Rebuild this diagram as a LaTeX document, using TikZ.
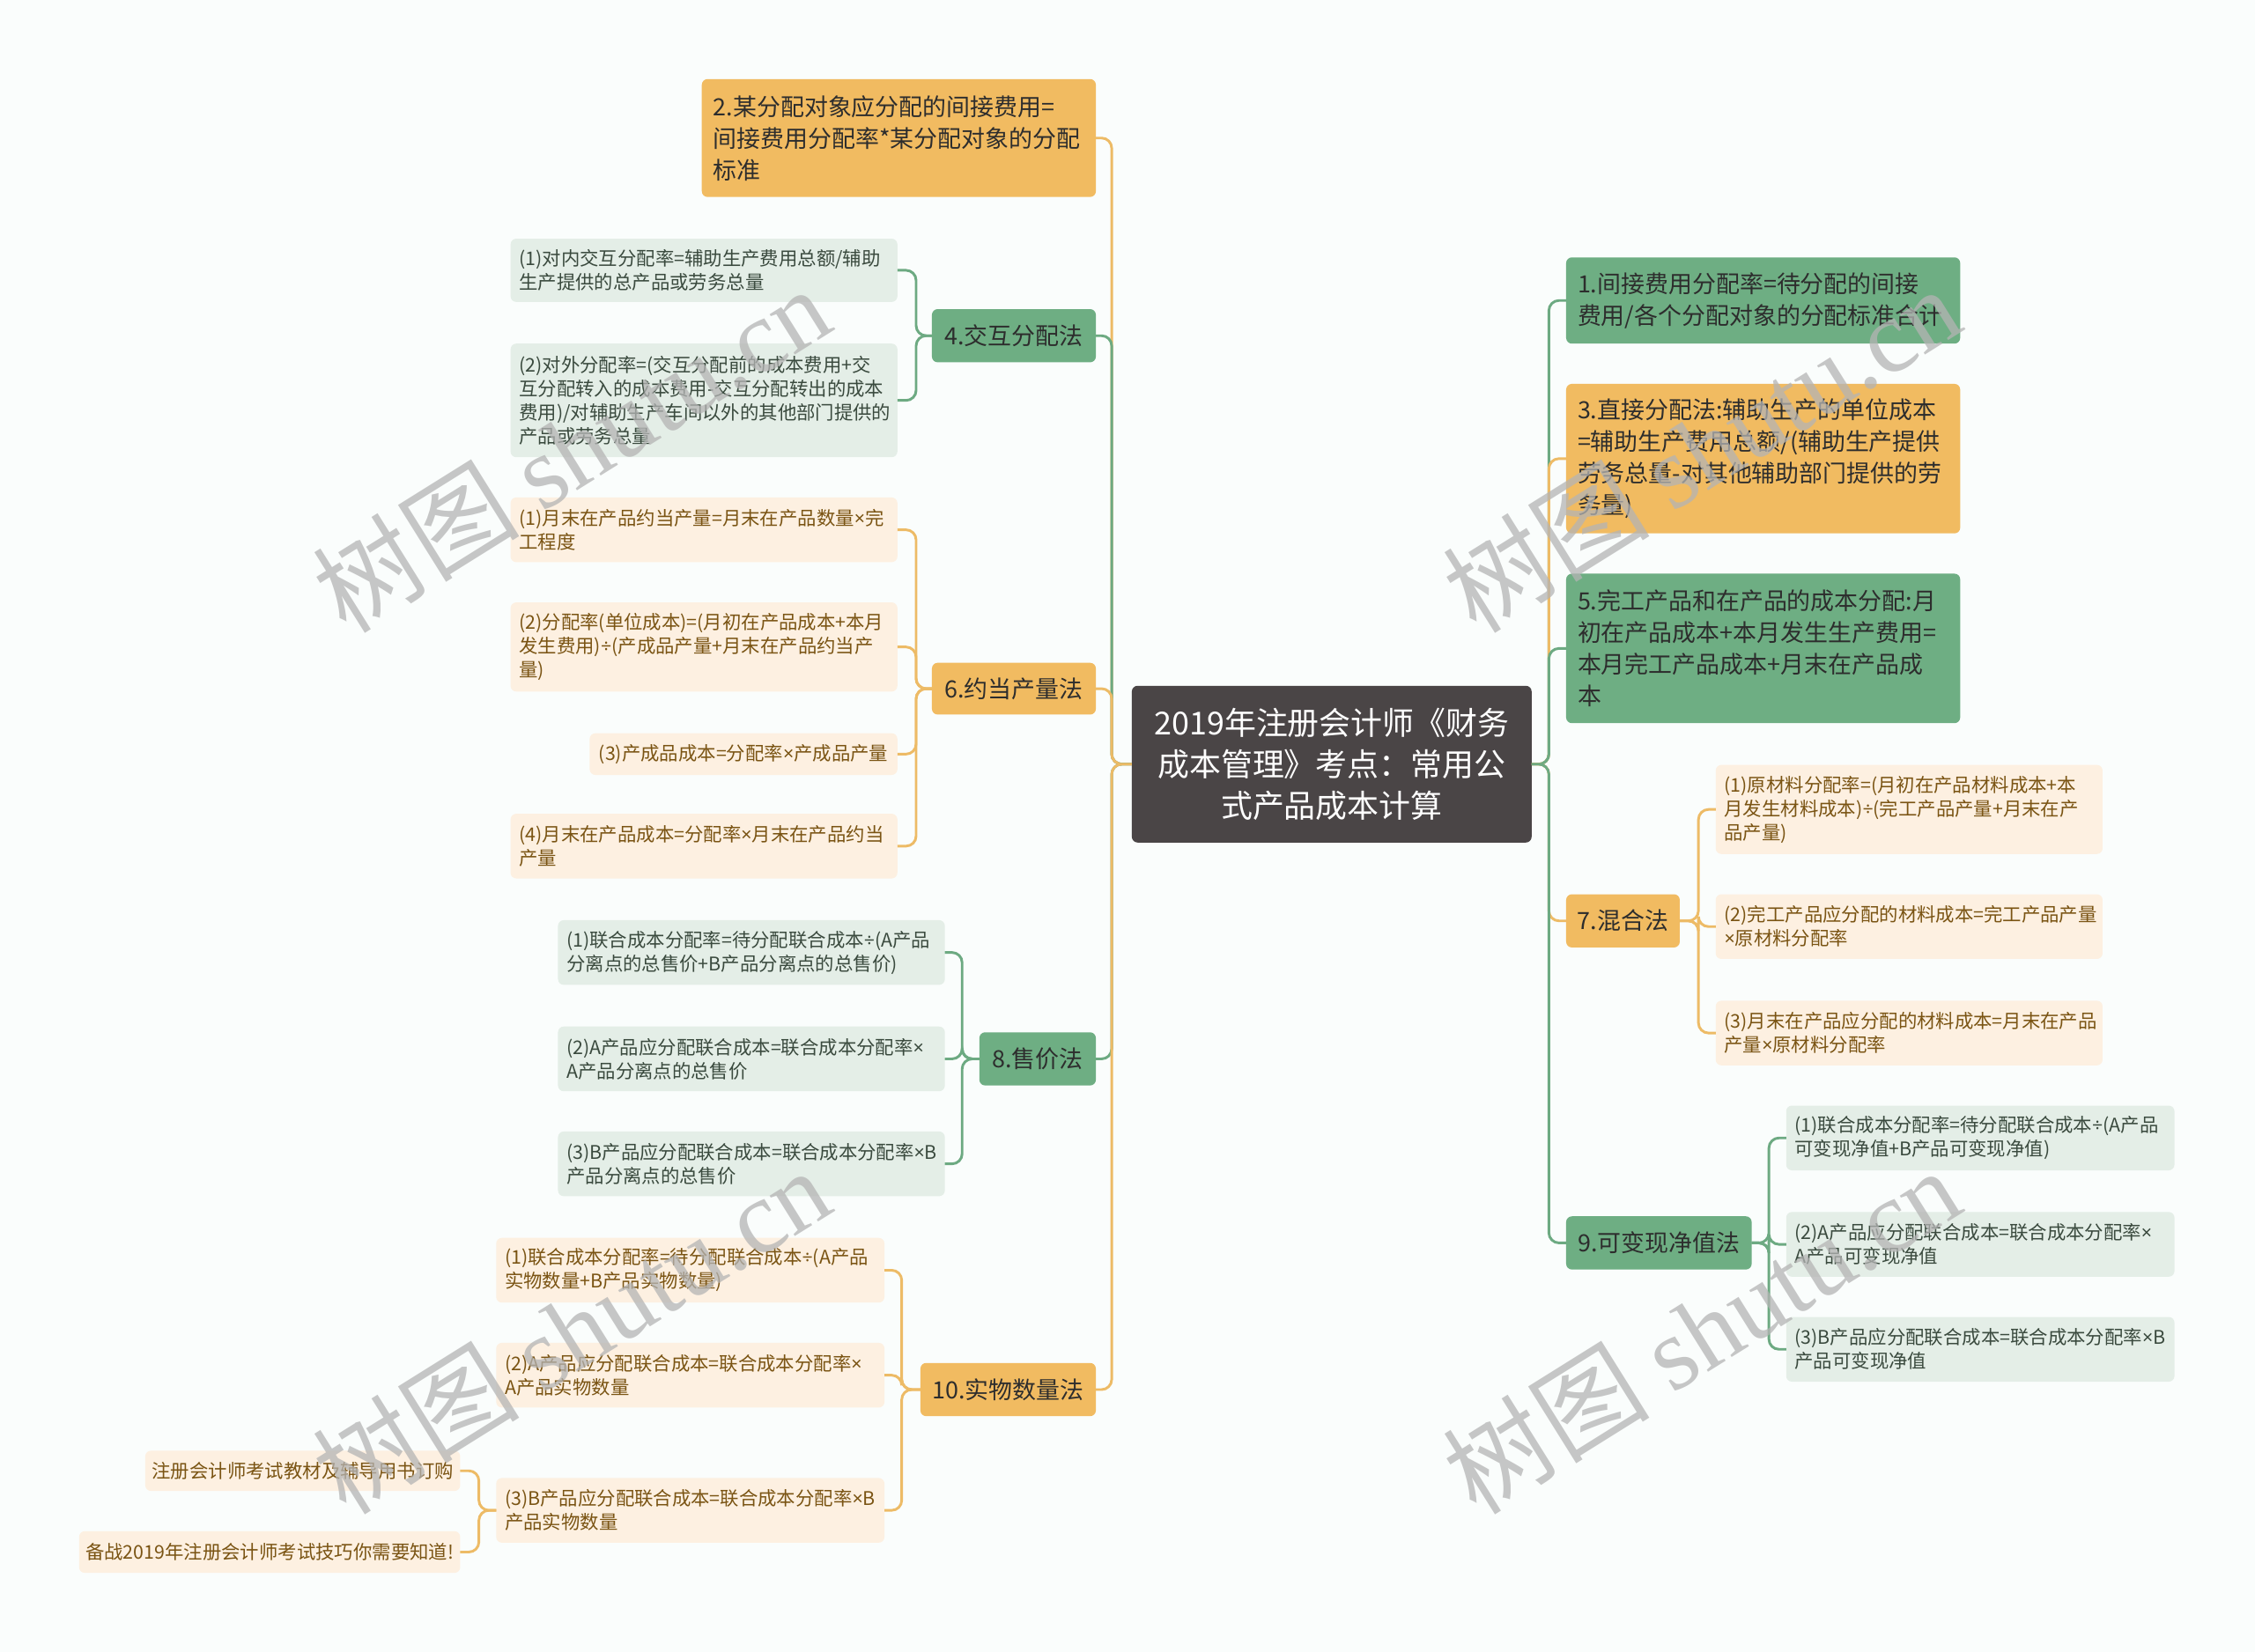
\documentclass[tikz,border=0pt]{standalone}
\usepackage{fontspec}
\setmainfont{Noto Sans CJK SC}
\newfontfamily\wmserif{Liberation Serif}
\newfontfamily\latf{Noto Sans}
\newcommand{\mulx}{{\latf ×}}
\newcommand{\divx}{{\latf ÷}}
\definecolor{bgc}{RGB}{250,253,252}
\definecolor{orgF}{RGB}{241,187,97}
\definecolor{grnF}{RGB}{110,174,131}
\definecolor{ctrF}{RGB}{74,69,70}
\definecolor{lgrF}{RGB}{228,238,231}
\definecolor{pchF}{RGB}{253,240,225}
\definecolor{orgL}{RGB}{237,187,102}
\definecolor{grnL}{RGB}{109,170,130}
\definecolor{txtD}{RGB}{45,45,45}
\definecolor{txtG}{RGB}{58,74,62}
\definecolor{txtO}{RGB}{122,84,19}
\definecolor{wmc}{RGB}{180,180,180}
\begin{document}
\begin{tikzpicture}[x=1pt,y=-1pt,
  base/.style={anchor=north west, rounded corners=4pt, inner ysep=0pt, outer sep=0pt},
  ctrbox/.style={base, fill=ctrF, text=white, align=center, font=\fontsize{22}{29}\selectfont},
  oneO/.style={base, fill=orgF, text=txtD, font=\fontsize{16.5}{22}\selectfont},
  oneG/.style={base, fill=grnF, text=txtD, font=\fontsize{16.5}{22}\selectfont},
  multi/.style={inner xsep=8pt, align=left},
  twoG/.style={base, fill=lgrF, text=txtG, font=\fontsize{13.1}{16.5}\selectfont},
  twoO/.style={base, fill=pchF, text=txtO, font=\fontsize{13.1}{16.5}\selectfont},
  multt/.style={inner xsep=6pt, align=left},
  eo/.style={draw=orgL, line width=1.8pt, rounded corners=7pt},
  eg/.style={draw=grnL, line width=1.8pt, rounded corners=7pt},
  wm/.style={text=wmc, text opacity=0.75, rotate=32, inner sep=0pt}
]
\fill[bgc] (0,0) rectangle (1568,1149);
\useasboundingbox (0,0) rectangle (1568,1149);

% center
\node[ctrbox, minimum width=278pt, minimum height=109pt] (c) at (787,477)
  {2019年注册会计师《财务\\成本管理》考点：常用公\\式产品成本计算};

% left level 1
\node[oneO, multi, text width=258pt, minimum height=82pt] (n2) at (488,55)
  {2.某分配对象应分配的间接费用=\\间接费用分配率*某分配对象的分配\\标准};
\node[oneG, minimum width=114pt, minimum height=37pt] (n4) at (648,215) {4.交互分配法};
\node[oneO, minimum width=114pt, minimum height=36pt] (n6) at (648,461) {6.约当产量法};
\node[oneG, minimum width=81pt, minimum height=37pt] (n8) at (681,718) {8.售价法};
\node[oneO, minimum width=122pt, minimum height=37pt] (n10) at (640,948) {10.实物数量法};

% right level 1
\node[oneG, multi, text width=258pt, minimum height=60pt] (n1) at (1089,179)
  {1.间接费用分配率=待分配的间接\\费用/各个分配对象的分配标准合计};
\node[oneO, multi, text width=258pt, minimum height=104pt] (n3) at (1089,267)
  {3.直接分配法:辅助生产的单位成本\\=辅助生产费用总额/(辅助生产提供\\劳务总量-对其他辅助部门提供的劳\\务量)};
\node[oneG, multi, text width=258pt, minimum height=104pt] (n5) at (1089,399)
  {5.完工产品和在产品的成本分配:月\\初在产品成本+本月发生生产费用=\\本月完工产品成本+月末在产品成\\本};
\node[oneO, minimum width=79pt, minimum height=37pt] (n7) at (1089,622) {7.混合法};
\node[oneG, minimum width=129pt, minimum height=37pt] (n9) at (1089,846) {9.可变现净值法};

% left level 2
\node[twoG, multt, text width=257pt, minimum height=44pt] (n41) at (355,166)
  {(1)对内交互分配率=辅助生产费用总额/辅助\\生产提供的总产品或劳务总量};
\node[twoG, multt, text width=257pt, minimum height=79pt] (n42) at (355,239)
  {(2)对外分配率=(交互分配前的成本费用+交\\互分配转入的成本费用-交互分配转出的成本\\费用)/对辅助生产车间以外的其他部门提供的\\产品或劳务总量};
\node[twoO, multt, text width=257pt, minimum height=45pt] (n61) at (355,346)
  {(1)月末在产品约当产量=月末在产品数量\mulx 完\\工程度};
\node[twoO, multt, text width=257pt, minimum height=62pt] (n62) at (355,419)
  {(2)分配率(单位成本)=(月初在产品成本+本月\\发生费用)\divx(产成品产量+月末在产品约当产\\量)};
\node[twoO, minimum width=214pt, minimum height=29pt] (n63) at (410,510)
  {(3)产成品成本=分配率\mulx 产成品产量};
\node[twoO, multt, text width=257pt, minimum height=45pt] (n64) at (355,566)
  {(4)月末在产品成本=分配率\mulx 月末在产品约当\\产量};
\node[twoG, multt, text width=257pt, minimum height=45pt] (n81) at (388,640)
  {(1)联合成本分配率=待分配联合成本\divx(A产品\\分离点的总售价+B产品分离点的总售价)};
\node[twoG, multt, text width=257pt, minimum height=45pt] (n82) at (388,714)
  {(2)A产品应分配联合成本=联合成本分配率\mulx\\A产品分离点的总售价};
\node[twoG, multt, text width=257pt, minimum height=45pt] (n83) at (388,787)
  {(3)B产品应分配联合成本=联合成本分配率\mulx B\\产品分离点的总售价};
\node[twoO, multt, text width=258pt, minimum height=45pt] (n101) at (345,861)
  {(1)联合成本分配率=待分配联合成本\divx(A产品\\实物数量+B产品实物数量)};
\node[twoO, multt, text width=258pt, minimum height=45pt] (n102) at (345,934)
  {(2)A产品应分配联合成本=联合成本分配率\mulx\\A产品实物数量};
\node[twoO, multt, text width=258pt, minimum height=45pt] (n103) at (345,1028)
  {(3)B产品应分配联合成本=联合成本分配率\mulx B\\产品实物数量};
\node[twoO, minimum width=219pt, minimum height=28pt] (n1031) at (101,1009)
  {注册会计师考试教材及辅导用书订购};
\node[twoO, minimum width=265pt, minimum height=29pt] (n1032) at (55,1065)
  {备战2019年注册会计师考试技巧你需要知道!};

% right level 2
\node[twoO, multt, text width=257pt, minimum height=62pt] (n71) at (1193,532)
  {(1)原材料分配率=(月初在产品材料成本+本\\月发生材料成本)\divx(完工产品产量+月末在产\\品产量)};
\node[twoO, multt, text width=257pt, minimum height=45pt] (n72) at (1193,622)
  {(2)完工产品应分配的材料成本=完工产品产量\\\mulx 原材料分配率};
\node[twoO, multt, text width=257pt, minimum height=45pt] (n73) at (1193,696)
  {(3)月末在产品应分配的材料成本=月末在产品\\产量\mulx 原材料分配率};
\node[twoG, multt, text width=258pt, minimum height=45pt] (n91) at (1242,769)
  {(1)联合成本分配率=待分配联合成本\divx(A产品\\可变现净值+B产品可变现净值)};
\node[twoG, multt, text width=258pt, minimum height=45pt] (n92) at (1242,843)
  {(2)A产品应分配联合成本=联合成本分配率\mulx\\A产品可变现净值};
\node[twoG, multt, text width=258pt, minimum height=45pt] (n93) at (1242,916)
  {(3)B产品应分配联合成本=联合成本分配率\mulx B\\产品可变现净值};

% connectors: center to level 1
\draw[eo] (c.west) -- ++(-14,0) |- (n2.east);
\draw[eg] (c.west) -- ++(-14,0) |- (n4.east);
\draw[eo] (c.west) -- ++(-14,0) |- (n6.east);
\draw[eg] (c.west) -- ++(-14,0) |- (n8.east);
\draw[eo] (c.west) -- ++(-14,0) |- (n10.east);
\draw[eg] (c.east) -- ++(12,0) |- (n1.west);
\draw[eo] (c.east) -- ++(12,0) |- (n3.west);
\draw[eg] (c.east) -- ++(12,0) |- (n5.west);
\draw[eo] (c.east) -- ++(12,0) |- (n7.west);
\draw[eg] (c.east) -- ++(12,0) |- (n9.west);

% level 1 to level 2
\draw[eg] (n4.west) -- ++(-11,0) |- (n41.east);
\draw[eg] (n4.west) -- ++(-11,0) |- (n42.east);
\draw[eo] (n6.west) -- ++(-11,0) |- (n61.east);
\draw[eo] (n6.west) -- ++(-11,0) |- (n62.east);
\draw[eo] (n6.west) -- ++(-11,0) |- (n63.east);
\draw[eo] (n6.west) -- ++(-11,0) |- (n64.east);
\draw[eg] (n8.west) -- ++(-12,0) |- (n81.east);
\draw[eg] (n8.west) -- ++(-12,0) |- (n82.east);
\draw[eg] (n8.west) -- ++(-12,0) |- (n83.east);
\draw[eo] (n10.west) -- ++(-13,0) |- (n101.east);
\draw[eo] (n10.west) -- ++(-13,0) |- (n102.east);
\draw[eo] (n10.west) -- ++(-13,0) |- (n103.east);
\draw[eo] (n103.west) -- ++(-12,0) |- (n1031.east);
\draw[eo] (n103.west) -- ++(-12,0) |- (n1032.east);
\draw[eo] (n7.east) -- ++(13,0) |- (n71.west);
\draw[eo] (n7.east) -- ++(13,0) |- (n72.west);
\draw[eo] (n7.east) -- ++(13,0) |- (n73.west);
\draw[eg] (n9.east) -- ++(12,0) |- (n91.west);
\draw[eg] (n9.east) -- ++(12,0) |- (n92.west);
\draw[eg] (n9.east) -- ++(12,0) |- (n93.west);

% watermarks
\node[wm] (wm1) at (397,312) {\fontsize{72}{72}\selectfont 树图 {\wmserif shutu.cn}};
\node[wm] (wm2) at (1183,312) {\fontsize{72}{72}\selectfont 树图 {\wmserif shutu.cn}};
\node[wm] (wm3) at (397,925) {\fontsize{72}{72}\selectfont 树图 {\wmserif shutu.cn}};
\node[wm] (wm4) at (1183,925) {\fontsize{72}{72}\selectfont 树图 {\wmserif shutu.cn}};
\end{tikzpicture}
\end{document}
